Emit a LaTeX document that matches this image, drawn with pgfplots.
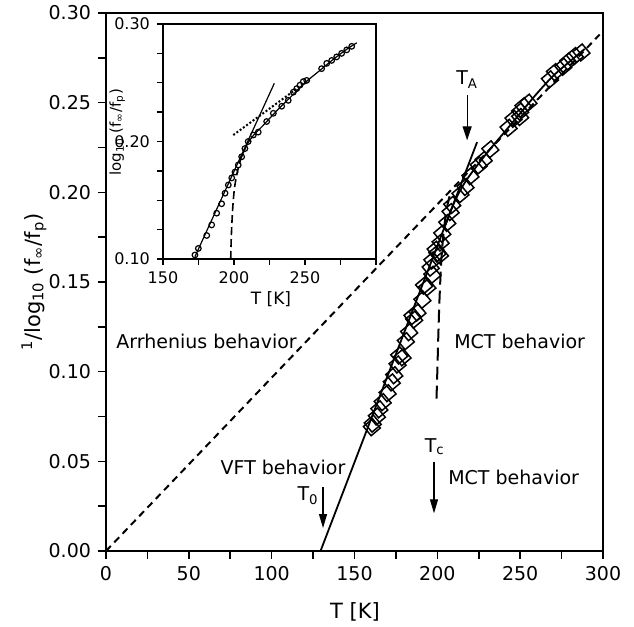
\documentclass[border=0pt]{standalone}
\usepackage{fontspec}
\setmainfont{DejaVu Sans}
\usepackage{pgfplots}
\pgfplotsset{compat=1.18}
\usetikzlibrary{arrows.meta}
\begin{document}
\begin{tikzpicture}
\useasboundingbox (-53pt,-38pt) rectangle (264pt,275.5pt);
\begin{axis}[
  at={(0,0)}, anchor=south west, scale only axis,
  width=248.5pt, height=269pt,
  xmin=0, xmax=300, ymin=0, ymax=0.30,
  xtick={0,50,100,150,200,250,300},
  minor xtick={25,75,125,175,225,275},
  ytick={0,0.05,0.10,0.15,0.20,0.25,0.30},
  minor ytick={0.025,0.075,0.125,0.175,0.225,0.275},
  tick align=outside, tick pos=left,
  major tick length=4pt, minor tick length=4pt,
  every tick/.style={black, line width=0.8pt},
  axis line style={line width=1pt},
  /pgf/number format/assume math mode=true,
  yticklabel style={/pgf/number format/.cd, fixed, fixed zerofill, precision=2},
  ticklabel style={font=\fontsize{9.5}{11}\selectfont},
  xlabel={T [K]},
  ylabel={\textsuperscript{1}/log\textsubscript{10} (f\textsubscript{∞}/f\textsubscript{p})},
  xlabel style={at={(axis description cs:0.501,-0.113)}, anchor=center, font=\fontsize{10.5}{12}\selectfont},
  ylabel style={at={(axis description cs:-0.145,0.5)}, anchor=center, font=\fontsize{10.5}{12}\selectfont},
  clip=false,
]
% Arrhenius
\addplot[black, line width=1pt, dash pattern=on 3.5pt off 2.5pt] coordinates {(0,0) (298,0.288)};
% VFT
\addplot[black, line width=0.9pt] coordinates {(129.5,0) (224,0.228)};
% MCT dashed
\addplot[black, line width=1pt, dash pattern=on 6.5pt off 3pt, smooth] coordinates {
(199.5,0.085) (200,0.10) (200.6,0.12) (201.3,0.14) (202.3,0.16) (203.5,0.175) (205.5,0.19) (208,0.2)};
% MCT solid high T
\addplot[black, line width=0.9pt, smooth] coordinates {
(205,0.182) (210,0.194) (215,0.203) (220,0.21) (230,0.222) (240,0.233) (250,0.244) (260,0.255) (270,0.265) (280,0.273) (289,0.28)};
% data
\addplot[only marks, mark=square, mark size=3pt, mark options={rotate=40, line width=0.75pt}] coordinates {
(287,0.278) (283,0.276) (279,0.273) (276,0.270) (271,0.267) (268,0.263)
(255,0.250) (252,0.248) (250,0.245) (246,0.241) (243,0.236) (250,0.242)
(232,0.224) (228,0.218) (225,0.215) (220,0.209) (217,0.203) (214,0.199)
(209,0.193) (208,0.189) (206,0.183) (203,0.177) (202,0.172) (200,0.166)
(197,0.162) (196,0.158) (201.6,0.165) (197,0.154) (194,0.147) (191,0.140)
(188,0.133) (186,0.129) (183,0.122) (179,0.108) (176,0.104) (174,0.098)
(172.5,0.094) (170,0.088) (167,0.083) (165,0.079) (163.5,0.075) (161,0.071)
(160.5,0.069) (185,0.131) (192,0.148) (199,0.168) (181,0.117) (177,0.109)};
% arrows and labels
\draw[line width=0.6pt, -{Triangle[length=7pt,width=4.5pt]}] (axis cs:218,0.254) -- (axis cs:218,0.229);
\node[font=\fontsize{9.5}{11}\selectfont] at (axis cs:218,0.263) {T\textsubscript{A}};
\draw[line width=0.6pt, -{Triangle[length=7pt,width=4pt]}] (axis cs:131,0.0357) -- (axis cs:131,0.0128);
\node[font=\fontsize{9.5}{11}\selectfont] at (axis cs:122,0.031) {T\textsubscript{0}};
\draw[line width=0.6pt, -{Triangle[length=7pt,width=4pt]}] (axis cs:198,0.0498) -- (axis cs:198,0.021);
\node[font=\fontsize{9.5}{11}\selectfont] at (axis cs:198.5,0.058) {T\textsubscript{c}};
\node[anchor=west, inner sep=0pt, font=\fontsize{9.5}{11}\selectfont] at (axis cs:6,0.1166) {Arrhenius behavior};
\node[anchor=west, inner sep=0pt, font=\fontsize{9.5}{11}\selectfont] at (axis cs:210,0.1166) {MCT behavior};
\node[anchor=west, inner sep=0pt, font=\fontsize{9.5}{11}\selectfont] at (axis cs:69,0.0465) {VFT behavior};
\node[anchor=west, inner sep=0pt, font=\fontsize{9.5}{11}\selectfont] at (axis cs:206.4,0.041) {MCT behavior};
\end{axis}
\begin{axis}[
  at={(28.5pt,146pt)}, anchor=south west, scale only axis,
  width=106.5pt, height=117.5pt,
  xmin=150, xmax=300, ymin=0.10, ymax=0.30,
  xtick={150,200,250}, minor xtick={175,225,275,300},
  ytick={0.10,0.20,0.30}, minor ytick={0.125,0.15,0.175,0.225,0.25,0.275},
  tick align=outside, tick pos=left,
  major tick length=3pt, minor tick length=3pt,
  every tick/.style={black, line width=0.7pt},
  axis line style={line width=0.8pt},
  axis background/.style={fill=white},
  /pgf/number format/assume math mode=true,
  yticklabel style={/pgf/number format/.cd, fixed, fixed zerofill, precision=2},
  ticklabel style={font=\fontsize{8}{9}\selectfont},
  xlabel={T [K]},
  ylabel={log\textsubscript{10} (f\textsubscript{∞}/f\textsubscript{p})},
  xlabel style={at={(axis description cs:0.507,-0.17)}, anchor=center, font=\fontsize{8.5}{10}\selectfont},
  ylabel style={at={(axis description cs:-0.215,0.54)}, anchor=center, inner sep=0pt, font=\fontsize{7.5}{9}\selectfont},
]
\addplot[black, line width=0.6pt] coordinates {(172.5,0.102) (228.4,0.2495)};
\addplot[black, line width=1pt, densely dotted] coordinates {(199.5,0.2055) (252.3,0.252)};
\addplot[black, line width=0.8pt, dash pattern=on 4pt off 2pt, smooth] coordinates {
(197.7,0.100) (198.0,0.115) (198.5,0.13) (199.2,0.145) (200.3,0.16) (202,0.172) (204,0.182) (206,0.19)};
\addplot[black, line width=0.6pt, smooth] coordinates {
(205,0.186) (210,0.199) (215,0.207) (220,0.213) (230,0.226) (240,0.238) (250,0.25) (260,0.26) (270,0.27) (280,0.279) (286.5,0.284)};
\addplot[only marks, mark=o, mark size=1.4pt, mark options={line width=0.6pt}] coordinates {
(172.5,0.1034) (174.9,0.109) (180.8,0.120) (184.3,0.129) (187.8,0.139) (191.3,0.147)
(193.7,0.156) (196,0.163) (198.4,0.169) (200.7,0.174) (203,0.180) (205.4,0.187)
(207.7,0.194) (210,0.200) (213.6,0.2055) (217.1,0.208) (223,0.217) (227.7,0.224)
(233.6,0.230) (238.2,0.235) (241.8,0.242) (244.2,0.245) (246.5,0.248) (248.8,0.251)
(251.2,0.252) (261.7,0.262) (265.3,0.2665) (268.8,0.269) (272.3,0.272) (275.8,0.275)
(279.4,0.278) (282.9,0.281)};
\end{axis}
\end{tikzpicture}
\end{document}
